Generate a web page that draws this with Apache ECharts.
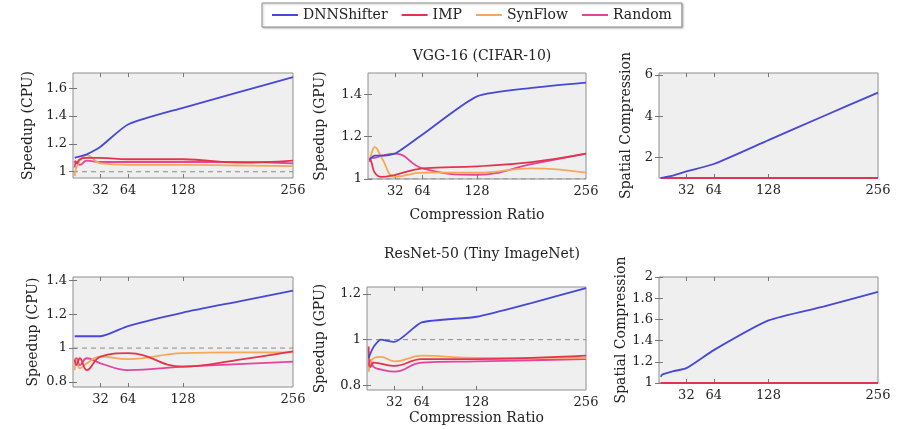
<!DOCTYPE html>
<html>
<head>
<meta charset="utf-8">
<script src="https://cdn.jsdelivr.net/npm/echarts@6/dist/echarts.min.js"></script>
<style>html,body{margin:0;padding:0;background:#fff}#c{width:905px;height:429px}</style>
</head>
<body>
<div id="c"></div>
<script>
// ---- data ----
const seriesNames = ['DNNShifter', 'IMP', 'SynFlow', 'Random'];
const xRatios = [2, 4, 8, 16, 32, 64, 128, 192, 256];
const xTickLabels = [32, 64, 128, 256];

// VGG-16 (CIFAR-10)
const vggCpuDNN  = [1.10, 1.105, 1.11, 1.125, 1.18, 1.34, 1.46, 1.57, 1.68];
const vggCpuIMP  = [1.08, 1.06, 1.09, 1.10, 1.10, 1.09, 1.09, 1.065, 1.08];
const vggCpuSyn  = [0.97, 1.03, 1.08, 1.12, 1.06, 1.05, 1.05, 1.045, 1.04];
const vggCpuRand = [1.03, 1.07, 1.05, 1.08, 1.07, 1.07, 1.07, 1.07, 1.06];

const vggGpuDNN  = [1.09, 1.10, 1.11, 1.11, 1.12, 1.21, 1.39, 1.43, 1.455];
const vggGpuIMP  = [1.10, 1.08, 1.03, 1.01, 1.02, 1.05, 1.06, 1.08, 1.12];
const vggGpuSyn  = [1.09, 1.12, 1.15, 1.10, 1.01, 1.03, 1.03, 1.05, 1.03];
const vggGpuRand = [1.08, 1.10, 1.10, 1.11, 1.12, 1.05, 1.02, 1.07, 1.12];

const vggSpaDNN  = [1.0, 1.02, 1.05, 1.12, 1.32, 1.68, 2.84, 4.0, 5.15];
const vggSpaIMP  = [1, 1, 1, 1, 1, 1, 1, 1, 1];
const vggSpaSyn  = [1, 1, 1, 1, 1, 1, 1, 1, 1];
const vggSpaRand = [1, 1, 1, 1, 1, 1, 1, 1, 1];

// ResNet-50 (Tiny ImageNet)
const resCpuDNN  = [1.07, 1.07, 1.07, 1.07, 1.07, 1.13, 1.21, 1.275, 1.34];
const resCpuIMP  = [0.93, 0.90, 0.94, 0.87, 0.95, 0.97, 0.89, 0.93, 0.98];
const resCpuSyn  = [0.87, 0.93, 0.88, 0.91, 0.95, 0.935, 0.97, 0.975, 0.975];
const resCpuRand = [0.93, 0.94, 0.90, 0.94, 0.91, 0.87, 0.89, 0.905, 0.92];

const resGpuDNN  = [0.92, 0.94, 0.97, 1.0, 0.99, 1.075, 1.10, 1.16, 1.225];
const resGpuIMP  = [0.97, 0.88, 0.90, 0.895, 0.885, 0.915, 0.915, 0.92, 0.93];
const resGpuSyn  = [0.86, 0.90, 0.92, 0.925, 0.905, 0.93, 0.92, 0.92, 0.92];
const resGpuRand = [0.88, 0.91, 0.88, 0.87, 0.86, 0.90, 0.905, 0.91, 0.915];

const resSpaDNN  = [1.06, 1.08, 1.09, 1.11, 1.14, 1.31, 1.59, 1.72, 1.86];
const resSpaIMP  = [1, 1, 1, 1, 1, 1, 1, 1, 1];
const resSpaSyn  = [1, 1, 1, 1, 1, 1, 1, 1, 1];
const resSpaRand = [1, 1, 1, 1, 1, 1, 1, 1, 1];

const baselineX = [0, 256];
const baselineY = [1, 1];

// y tick labels per panel
const yTicks1 = [1, 1.2, 1.4, 1.6];
const yTicks2 = [1, 1.2, 1.4];
const yTicks3 = [2, 4, 6];
const yTicks4 = [0.8, 1, 1.2, 1.4];
const yTicks5 = [0.8, 1, 1.2];
const yTicks6 = [1, 1.2, 1.4, 1.6, 1.8, 2];

const titles = ['VGG-16 (CIFAR-10)', 'ResNet-50 (Tiny ImageNet)'];
const yNames = ['Speedup (CPU)', 'Speedup (GPU)', 'Spatial Compression'];
const xName = 'Compression Ratio';

// ---- layout / style ----
const colors = {DNNShifter: '#4848d8', IMP: '#e4344c', SynFlow: '#f4a858', Random: '#e4449c'};
const smoothness = {DNNShifter: 0.2, IMP: 0.45, SynFlow: 0.45, Random: 0.45};
const FONT = 'DejaVu Serif';
const panels = [
  {grid: {left: 73, top: 73, width: 220, height: 105}, ymin: 0.955, ymax: 1.71, yt: yTicks1, yName: yNames[0], yGap: 38, xName: '', base: true,
   d: [vggCpuDNN, vggCpuIMP, vggCpuSyn, vggCpuRand]},
  {grid: {left: 368, top: 73, width: 218, height: 106}, ymin: 1.0, ymax: 1.5, yt: yTicks2, yName: yNames[1], yGap: 41, xName: xName, xGap: 29, base: true,
   d: [vggGpuDNN, vggGpuIMP, vggGpuSyn, vggGpuRand]},
  {grid: {left: 659, top: 73, width: 219, height: 105}, ymin: 1, ymax: 6.1, yt: yTicks3, yName: yNames[2], yGap: 26, xName: '', base: false,
   d: [vggSpaDNN, vggSpaIMP, vggSpaSyn, vggSpaRand]},
  {grid: {left: 73, top: 277, width: 220, height: 110}, ymin: 0.77, ymax: 1.42, yt: yTicks4, yName: yNames[0], yGap: 33, xName: '', base: true,
   d: [resCpuDNN, resCpuIMP, resCpuSyn, resCpuRand]},
  {grid: {left: 367, top: 287, width: 219, height: 103}, ymin: 0.78, ymax: 1.23, yt: yTicks5, yName: yNames[1], yGap: 40, xName: xName, xGap: 21, base: true,
   d: [resGpuDNN, resGpuIMP, resGpuSyn, resGpuRand]},
  {grid: {left: 659, top: 277, width: 219, height: 106}, ymin: 1, ymax: 2, yt: yTicks6, yName: yNames[2], yGap: 24, xName: '', base: false,
   d: [resSpaDNN, resSpaIMP, resSpaSyn, resSpaRand]}
];

const fmt = v => String(+(+v).toFixed(2));
const grid = [], xAxis = [], yAxis = [], series = [];
panels.forEach((p, i) => {
  grid.push(Object.assign({show: true, backgroundColor: '#efefef', borderColor: '#8e8e8e', borderWidth: 1, containLabel: false}, p.grid));
  const tickStyle = {show: true, inside: true, length: 4, lineStyle: {color: '#777', width: 1}};
  xAxis.push({
    type: 'value', gridIndex: i, min: 0, max: 256, position: 'bottom',
    axisLine: {show: false}, splitLine: {show: false},
    axisTick: Object.assign({customValues: [32, 64, 128]}, tickStyle),
    axisLabel: {customValues: xTickLabels, color: '#222', fontFamily: FONT, fontSize: 13, margin: 6, formatter: fmt},
    name: p.xName, nameLocation: 'middle', nameGap: p.xGap || 20,
    nameTextStyle: {color: '#222', fontFamily: FONT, fontSize: 14}
  });
  xAxis.push({
    type: 'value', gridIndex: i, min: 0, max: 256, position: 'top',
    axisLine: {show: false}, splitLine: {show: false},
    axisTick: Object.assign({customValues: [32, 64, 128]}, tickStyle),
    axisLabel: {show: false}
  });
  yAxis.push({
    type: 'value', gridIndex: i, min: p.ymin, max: p.ymax, position: 'left',
    axisLine: {show: false}, splitLine: {show: false},
    axisTick: Object.assign({customValues: p.yt}, tickStyle),
    axisLabel: {customValues: p.yt, color: '#222', fontFamily: FONT, fontSize: 13, margin: 6, formatter: fmt},
    name: p.yName, nameLocation: 'middle', nameGap: p.yGap, nameRotate: 90,
    nameTextStyle: {color: '#222', fontFamily: FONT, fontSize: 14}
  });
  yAxis.push({
    type: 'value', gridIndex: i, min: p.ymin, max: p.ymax, position: 'right',
    axisLine: {show: false}, splitLine: {show: false},
    axisTick: Object.assign({customValues: p.yt}, tickStyle),
    axisLabel: {show: false}
  });
  if (p.base) {
    series.push({
      type: 'line', xAxisIndex: 2 * i, yAxisIndex: 2 * i, silent: true, symbol: 'none',
      data: baselineX.map((x, k) => [x, baselineY[k]]),
      lineStyle: {color: '#8a8a8a', width: 1, type: [5, 4]}, z: 1
    });
  }
  // draw order: Random, SynFlow, IMP, DNNShifter (blue on top)
  [3, 2, 1, 0].forEach(k => {
    const nm = seriesNames[k];
    series.push({
      name: nm, type: 'line', xAxisIndex: 2 * i, yAxisIndex: 2 * i,
      data: xRatios.map((x, j) => [x, p.d[k][j]]),
      smooth: smoothness[nm], symbol: 'none', clip: true,
      lineStyle: {color: colors[nm], width: 1.8}, itemStyle: {color: colors[nm]},
      z: 2 + (3 - k)
    });
  });
});

const chart = echarts.init(document.getElementById('c'), null, {renderer: 'canvas'});
chart.setOption({
  animation: false,
  backgroundColor: '#ffffff',
  textStyle: {fontFamily: FONT},
  title: [
    {text: titles[0], left: 477, top: 44, textAlign: 'center', textStyle: {fontFamily: FONT, fontSize: 14, fontWeight: 'normal', color: '#222'}},
    {text: titles[1], left: 477, top: 242, textAlign: 'center', textStyle: {fontFamily: FONT, fontSize: 14, fontWeight: 'normal', color: '#222'}}
  ],
  legend: {
    data: seriesNames, left: 262, top: 3, orient: 'horizontal',
    icon: 'rect', itemWidth: 26, itemHeight: 2, itemGap: 14,
    padding: [5, 10], borderColor: '#8e8e8e', borderWidth: 1, backgroundColor: '#fff',
    shadowColor: 'rgba(0,0,0,0.25)', shadowBlur: 2, shadowOffsetX: 1, shadowOffsetY: 1,
    textStyle: {fontFamily: FONT, fontSize: 14, color: '#222'}
  },
  grid, xAxis, yAxis, series
});
</script>
</body>
</html>
